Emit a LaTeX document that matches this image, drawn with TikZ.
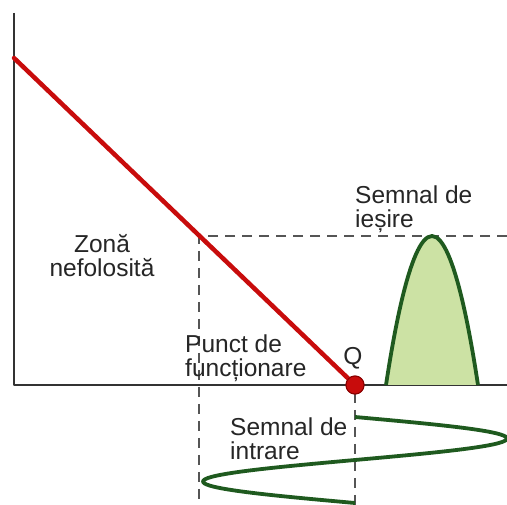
\documentclass[tikz,border=0pt]{standalone}
\usepackage{fontspec}
\setmainfont{Liberation Sans}
\usepackage{xcolor}
\usepackage{tikz}
\usetikzlibrary{arrows.meta,positioning,calc}
\definecolor{axisgray}{HTML}{333333}
\definecolor{dashgray}{HTML}{555555}
\definecolor{loadred}{HTML}{C80C0C}
\definecolor{darkred}{HTML}{8A0000}
\definecolor{wavegreen}{HTML}{1F5A1F}
\definecolor{softgreen}{HTML}{CCE2A4}
\definecolor{ink}{HTML}{262626}
\tikzset{
    every picture/.style={line cap=butt,line join=round},
    axisline/.style={draw=axisgray,line width=2pt},
    loadline/.style={draw=loadred,line width=4.5pt,line cap=round},
    guideline/.style={draw=dashgray,line width=1.3pt,dash pattern=on 10pt off 7pt},
    wavecurve/.style={draw=wavegreen,line width=3.8pt,line join=round},
    qpoint/.style={circle,fill=loadred,draw=darkred,line width=1pt,
      minimum size=18pt,inner sep=0pt},
    label/.style={text=ink,inner sep=0pt,align=left,
      font=\fontsize{24.5}{24.5}\selectfont}
}
\begin{document}
\begin{tikzpicture}[x=1pt,y=-1pt]
  \useasboundingbox[fill=white] (0,0) rectangle (507,505);
  % axes
  \coordinate (origin) at (14,385);
  \coordinate (ytop) at (14,13);
  \coordinate (xend) at (507,385);
  \draw[axisline] (ytop) -- (origin) -- (xend);
  % operating point and guides
  \coordinate (lstart) at (14,58);
  \coordinate (op) at (199,236);
  \coordinate (opbottom) at (199,505);
  \coordinate (peakend) at (507,236);
  \coordinate (qbottom) at (355,505);
  \draw[guideline] (peakend) -- (op) -- (opbottom);
  \draw[guideline] (355,393) -- (qbottom);
  \node[qpoint] (q) at (355,385) {};
  \draw[loadline] (lstart) -- (q.center);
  \node[qpoint] at (q) {};
  % output signal
  \coordinate (outl) at (386,385);
  \coordinate (outtop) at (432,236);
  \coordinate (outr) at (478,385);
  \filldraw[wavecurve,fill=softgreen] (outl) parabola bend (outtop) (outr);
  % input signal
  \draw[wavecurve] plot[domain=0:360,samples=80,smooth]
    ({355+152*sin(\x)},{417+0.2389*\x});
  % texts (base = last line)
  \node[label,anchor=base,align=center] (zona) at (102,277) {Zonă\\nefolosită};
  \node[label,anchor=base west] (iesire) at (355,228) {Semnal de\\ieșire};
  \node[label,anchor=base] (qlbl) at (353,365) {Q};
  \node[label,anchor=base west] (punct) at (185,377) {Punct de\\funcționare};
  \node[label,anchor=base west] (intrare) at (230,460) {Semnal de\\intrare};
\end{tikzpicture}
\end{document}
